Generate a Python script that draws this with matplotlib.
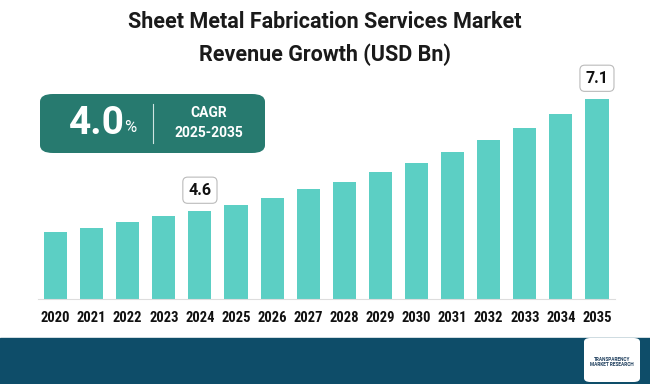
import matplotlib.pyplot as plt
from matplotlib.patches import FancyBboxPatch, Rectangle
import numpy as np

years = ['2020', '2021', '2022', '2023', '2024', '2025', '2026', '2027',
         '2028', '2029', '2030', '2031', '2032', '2033', '2034', '2035']
revenue = [4.13, 4.22, 4.35, 4.49, 4.60, 4.73, 4.89, 5.09,
           5.25, 5.47, 5.67, 5.92, 6.19, 6.45, 6.77, 7.10]
callouts = {'2024': '4.6', '2035': '7.1'}
cagr = '4.0'
cagr_period = '2025-2035'
title = 'Sheet Metal Fabrication Services Market\nRevenue Growth (USD Bn)'

bar_color = '#5ccfc4'
box_color = '#277a6f'
band_color = '#0e4d69'

plt.rcParams['font.family'] = ['Roboto', 'DejaVu Sans']

fig = plt.figure(figsize=(6.5, 3.84), dpi=100)
W, H = 650, 384

# bottom band
fig.patches.append(Rectangle((0, 0), 1, 46 / H, transform=fig.transFigure,
                             color=band_color, zorder=0))
# logo placeholder
fig.patches.append(FancyBboxPatch((584 / W, 2 / H), 56 / W, 44 / H,
                                  boxstyle='round,pad=0,rounding_size=0.01',
                                  transform=fig.transFigure, fc='white', ec='none'))
fig.text(612 / W, 22 / H, 'TRANSPARENCY\nMARKET RESEARCH', fontsize=3.4,
         ha='center', va='center', color='#1d3d5c', fontweight='bold')

ax = fig.add_axes([37.5 / W, 85 / H, 577.5 / W, 259 / H])
x = np.arange(len(years))
ax.bar(x, revenue, width=0.64, color=bar_color, zorder=2)
ax.set_xlim(-0.5, len(years) - 0.5)
ax.set_ylim(2.636, 8.42)
for s in ['top', 'right', 'left']:
    ax.spines[s].set_visible(False)
ax.spines['bottom'].set_color('#dddddd')
ax.set_yticks([])
ax.set_xticks(x)
ax.set_xticklabels(years, fontsize=10.5, fontweight='bold', color='#111111',
                   family=['Roboto Condensed', 'Roboto', 'DejaVu Sans'])
ax.tick_params(axis='x', length=0, pad=9)

for yr, lab in callouts.items():
    i = years.index(yr)
    ax.annotate(lab, (i, revenue[i]), xytext=(0, 15), textcoords='offset points',
                ha='center', va='center', fontsize=11.5, fontweight='bold',
                color='#111111',
                bbox=dict(boxstyle='round,pad=0.35,rounding_size=0.3',
                          fc='white', ec='#bbbbbb', lw=0.8))

fig.text(0.5, 1 - 39 / H, title, ha='center', va='center', fontsize=15.5,
         fontweight='bold', color='#1a1a1a', linespacing=1.6)

# CAGR box
fig.patches.append(FancyBboxPatch((40 / W, (H - 153) / H), 225 / W, 59 / H,
                                  boxstyle='round,pad=0,rounding_size=0.02',
                                  transform=fig.transFigure, fc=box_color, ec='none'))
fig.text(97 / W, (H - 123) / H, cagr, ha='center', va='center', fontsize=28,
         fontweight='bold', color='white')
fig.text(124 / W, (H - 127) / H, '%', ha='left', va='center', fontsize=12,
         color='white')
fig.lines.append(plt.Line2D([153 / W, 153 / W], [(H - 143) / H, (H - 104) / H],
                            transform=fig.transFigure, color='#cfe5e1', lw=0.8))
fig.text(209 / W, (H - 113) / H, 'CAGR', ha='center', va='center', fontsize=10,
         fontweight='bold', color='white')
fig.text(209 / W, (H - 133) / H, cagr_period, ha='center', va='center', fontsize=10,
         fontweight='bold', color='white')

fig.savefig('out.png', dpi=100)
